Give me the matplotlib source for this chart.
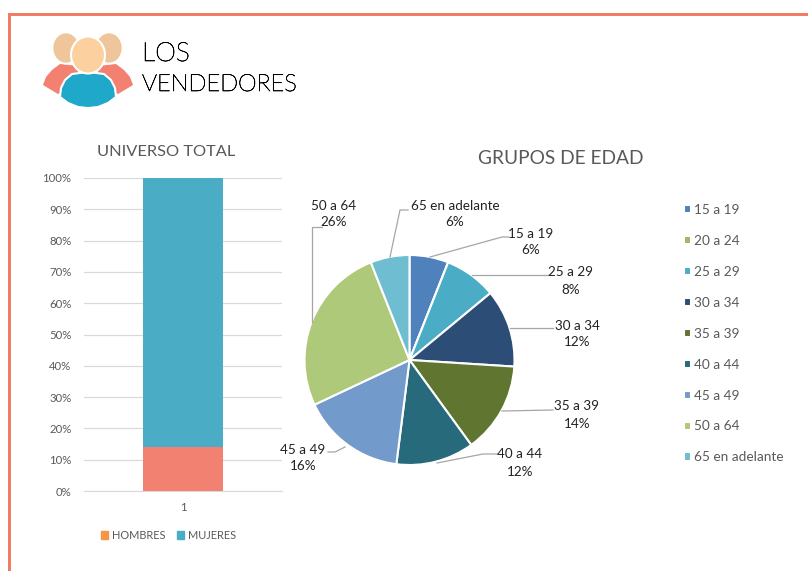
import matplotlib
matplotlib.use("Agg")
import matplotlib.pyplot as plt
import matplotlib.patheffects as pe
from matplotlib.patches import Ellipse, Polygon, Patch, Rectangle

W, H = 808, 571
plt.rcParams['font.family'] = ['Lato', 'DejaVu Sans']

bar_categories = ["1"]
hombres = [14]
mujeres = [86]
bar_ticks = list(range(0, 101, 10))

age_groups = ["15 a 19", "20 a 24", "25 a 29", "30 a 34", "35 a 39",
              "40 a 44", "45 a 49", "50 a 64", "65 en adelante"]
age_values = [6, 0, 8, 12, 14, 12, 16, 26, 6]
age_colors = ["#4F81BD", "#9BBB59", "#4BACC6", "#2C4D75", "#5F7530",
              "#276A7C", "#729ACA", "#AFC97A", "#6FBDD1"]

label_layout = {
    "15 a 19": ((531, 242), [(430, 257), (502, 237), (509, 237)]),
    "25 a 29": ((571, 281), [(472, 275), (548, 275)]),
    "30 a 34": ((577, 334), [(510, 328), (553, 328)]),
    "35 a 39": ((577, 415), [(502, 411), (553, 410)]),
    "40 a 44": ((520, 463), [(437, 463), (483, 454), (497, 454)]),
    "45 a 49": ((303, 458), [(345, 447), (335, 452), (328, 452)]),
    "50 a 64": ((334, 214), [(312, 322), (312, 227), (322, 227)]),
    "65 en adelante": ((455, 214), [(390, 257), (400, 210), (408, 210)]),
}

GREY = "#595959"


def axes_px(x0, y0, x1, y1, **kw):
    return fig.add_axes([x0 / W, 1 - y1 / H, (x1 - x0) / W, (y1 - y0) / H], **kw)


fig = plt.figure(figsize=(W / 100, H / 100), dpi=100, facecolor="white")

# pixel overlay for page furniture
ov = axes_px(0, 0, W, H)
ov.set_xlim(0, W)
ov.set_ylim(H, 0)
ov.axis("off")
ov.add_patch(Rectangle((8, 13), 3, H - 13, color="#F27D65", lw=0))
ov.add_patch(Rectangle((8, 13), W - 8, 3, color="#F27D65", lw=0))

# logo
BODY = "#F38172"
ov.add_patch(Polygon([(43, 85), (46, 77), (52, 70), (60, 64), (78, 66), (78, 80), (62, 92), (58, 94)],
                     closed=True, fc=BODY, ec="none"))
ov.add_patch(Polygon([(133, 85), (130, 77), (124, 70), (116, 64), (98, 66), (98, 80), (114, 92), (118, 94)],
                     closed=True, fc=BODY, ec="none"))
ov.add_patch(Ellipse((66, 48), 27, 31, fc="#EFC69B", ec="white", lw=1.2))
ov.add_patch(Ellipse((109, 48), 27, 31, fc="#EFC69B", ec="white", lw=1.2))
ov.add_patch(Polygon([(60, 97), (61, 88), (65, 80), (72, 74), (88, 72), (104, 74), (111, 80), (115, 88),
                      (116, 97), (108, 103), (98, 107), (88, 108), (78, 107), (68, 103)],
                     closed=True, fc="#1FA8C9", ec="white", lw=1.5))
ov.add_patch(Ellipse((88, 55), 34, 37, fc="#FDD09F", ec="white", lw=1.5))
stroke = [pe.withStroke(linewidth=0.45, foreground="black")]
ov.text(142, 54, "LOS", fontsize=19, weight="light", color="black", va="center", ha="left",
        path_effects=stroke)
ov.text(142, 84.5, "VENDEDORES", fontsize=17, weight="light", color="black", va="center", ha="left",
        path_effects=stroke)

# stacked bar
ax = axes_px(84, 178, 282, 491)
x = range(len(bar_categories))
ax.bar(x, hombres, width=0.404, color="#F38172", zorder=3)
ax.bar(x, mujeres, width=0.404, bottom=hombres, color="#4BACC6", zorder=3)
ax.set_xlim(-0.5, 0.5)
ax.set_ylim(0, 100)
ax.set_yticks(bar_ticks)
ax.set_yticklabels([f"{t}%" for t in bar_ticks])
ax.set_xticks(list(x))
ax.set_xticklabels(bar_categories)
ax.grid(axis="y", color="#D9D9D9", lw=0.9, zorder=0)
ax.tick_params(length=0, labelsize=8.2, colors=GREY, pad=9)
ax.tick_params(axis="x", pad=8)
for name, s in ax.spines.items():
    s.set_visible(name == "bottom")
    s.set_color("#D9D9D9")
ov.text(166, 152, "UNIVERSO TOTAL", fontsize=11.8, color=GREY, ha="center", va="center")
ax.legend(handles=[Patch(color="#F79646", label="HOMBRES"), Patch(color="#4BACC6", label="MUJERES")],
          loc="center", bbox_to_anchor=(168.5 / W, 1 - 535.5 / H), bbox_transform=fig.transFigure,
          ncol=2, frameon=False, fontsize=7.9, labelcolor=GREY,
          handlelength=0.65, handleheight=0.65, handletextpad=0.35, columnspacing=1.0,
          borderpad=0, borderaxespad=0)

# pie
pa = axes_px(304.5, 255, 514.5, 465)
wedges, _ = pa.pie(age_values, colors=age_colors, startangle=90, counterclock=False,
                   radius=1, wedgeprops=dict(edgecolor="white", linewidth=1.5))
pa.set_xlim(-1, 1)
pa.set_ylim(-1, 1)
for w in wedges:
    w.set_clip_on(False)
ov.text(561, 159, "GRUPOS DE EDAD", fontsize=13.8, color=GREY, ha="center", va="center")

total = sum(age_values)
ov.set_zorder(5)
for name, val in zip(age_groups, age_values):
    if name not in label_layout:
        continue
    (tx, ty), pts = label_layout[name]
    ov.plot([p[0] for p in pts], [p[1] for p in pts], color="#A6A6A6", lw=0.9)
    ov.text(tx, ty, f"{name}\n{round(100 * val / total)}%", fontsize=9.7, color="#222222",
            ha="center", va="center", linespacing=1.5)

pa.legend(handles=wedges, labels=age_groups, loc="upper left",
          bbox_to_anchor=(683.5 / W, 1 - 204 / H), bbox_transform=fig.transFigure,
          frameon=False, fontsize=9.8, labelcolor=GREY, labelspacing=1.39,
          handlelength=0.55, handleheight=0.55, handletextpad=0.2, borderpad=0, borderaxespad=0)

fig.savefig("out.png", dpi=100)
